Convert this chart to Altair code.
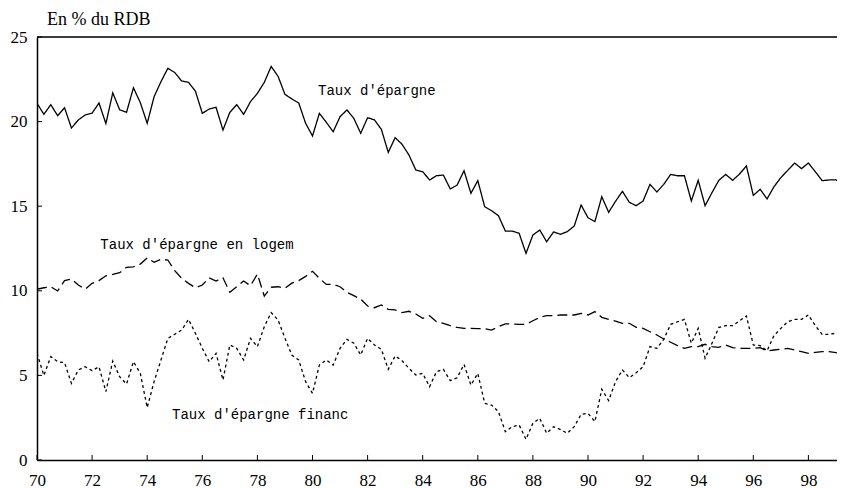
import altair as alt
import pandas as pd

# Quarterly data, 1970Q1 .. 1999Q2 (years shown as 70..99)
taux_epargne = [
    21.08, 20.43, 21.0, 20.35, 20.82, 19.62, 20.1, 20.39, 20.5, 21.1, 19.88, 21.7,
    20.7, 20.55, 22.0, 21.12, 19.9, 21.47, 22.36, 23.15, 22.9, 22.4, 22.32, 21.8,
    20.49, 20.74, 20.84, 19.5, 20.55, 21.0, 20.43, 21.18, 21.67, 22.32, 23.26, 22.68,
    21.61, 21.34, 21.1, 19.9, 19.15, 20.49, 19.96, 19.4, 20.29, 20.69, 20.19, 19.31,
    20.23, 20.1, 19.54, 18.18, 19.05, 18.66, 18.03, 17.14, 17.04, 16.55, 16.8, 16.84,
    16.02, 16.25, 17.1, 15.76, 16.51, 14.97, 14.73, 14.44, 13.53, 13.53, 13.4, 12.21,
    13.3, 13.59, 12.9, 13.48, 13.34, 13.5, 13.83, 15.07, 14.32, 14.09, 15.56, 14.64,
    15.29, 15.88, 15.23, 15.03, 15.31, 16.29, 15.84, 16.29, 16.88, 16.8, 16.8, 15.31,
    16.53, 15.03, 15.8, 16.53, 16.88, 16.53, 16.9, 17.38, 15.64, 16.0, 15.43, 16.15,
    16.69, 17.12, 17.55, 17.22, 17.55, 17.04, 16.51, 16.55, 16.55, 16.45,
]
taux_logement = [
    10.09, 10.18, 10.24, 9.99, 10.6, 10.7, 10.34, 10.09, 10.44, 10.6, 10.89, 10.97,
    11.07, 11.39, 11.42, 11.58, 11.94, 11.68, 11.86, 11.82, 11.19, 10.74, 10.44, 10.18,
    10.34, 10.77, 10.58, 10.77, 9.91, 10.24, 10.58, 10.3, 10.99, 9.69, 10.21, 10.24,
    10.15, 10.45, 10.6, 10.85, 11.15, 10.74, 10.38, 10.38, 10.24, 9.91, 9.71, 9.51,
    9.1, 9.0, 9.16, 8.9, 8.87, 8.71, 8.79, 8.63, 8.37, 8.53, 8.17, 8.08,
    7.94, 7.84, 7.78, 7.78, 7.76, 7.76, 7.68, 7.88, 8.04, 8.04, 8.02, 8.02,
    8.23, 8.43, 8.53, 8.53, 8.57, 8.57, 8.57, 8.67, 8.57, 8.77, 8.43, 8.31,
    8.21, 8.08, 8.08, 7.84, 7.78, 7.58, 7.39, 7.15, 6.96, 6.76, 6.6, 6.7,
    6.7, 6.84, 6.7, 6.66, 6.8, 6.64, 6.6, 6.6, 6.6, 6.64, 6.44, 6.5,
    6.54, 6.6, 6.5, 6.4, 6.3, 6.36, 6.4, 6.4, 6.34, 6.3,
]
taux_financier = [
    6.3, 5.0, 6.11, 5.81, 5.75, 4.53, 5.32, 5.51, 5.28, 5.51, 4.04, 5.85,
    4.92, 4.49, 5.81, 5.12, 3.1, 4.63, 5.91, 7.19, 7.43, 7.68, 8.31, 7.49,
    6.6, 5.81, 6.3, 4.73, 6.8, 6.6, 5.91, 7.19, 6.7, 7.88, 8.71, 8.27,
    7.2, 6.2, 5.91, 4.63, 3.94, 5.61, 5.91, 5.61, 6.6, 7.13, 6.9, 6.21,
    7.19, 6.8, 6.54, 5.36, 6.15, 5.87, 5.42, 5.02, 5.12, 4.33, 5.22, 5.36,
    4.69, 4.86, 5.65, 4.43, 5.12, 3.35, 3.25, 2.86, 1.67, 1.97, 2.07, 1.22,
    2.17, 2.46, 1.58, 1.97, 1.8, 1.58, 1.97, 2.7, 2.76, 2.27, 4.18, 3.51,
    4.63, 5.32, 4.87, 5.16, 5.51, 6.7, 6.6, 7.13, 8.02, 8.17, 8.31, 6.9,
    7.78, 6.01, 6.9, 7.84, 7.94, 7.94, 8.23, 8.51, 6.8, 6.76, 6.46, 7.35,
    7.78, 8.17, 8.31, 8.31, 8.57, 7.94, 7.43, 7.43, 7.49, 7.43,
]
quarters = [70 + i * 0.25 for i in range(len(taux_epargne))]

title_text = "En % du RDB"
label_texts = ["Taux d'épargne", "Taux d'épargne en logem", "Taux d'épargne financ"]
label_x = [80.2, 72.3, 74.9]
label_y = [21.8, 12.7, 2.66]

x_ticks = [70, 72, 74, 76, 78, 80, 82, 84, 86, 88, 90, 92, 94, 96, 98]
y_ticks = [0, 5, 10, 15, 20, 25]

W, H = 800, 423
PX_PER_YEAR = 27.55
x_scale = alt.Scale(domain=[70, 70 + W / PX_PER_YEAR], nice=False, zero=False)
y_scale = alt.Scale(domain=[0, 25], nice=False, zero=True)

serif = "Liberation Serif, Times New Roman, DejaVu Serif, serif"
mono = "Liberation Mono, Courier New, monospace"

x_axis = alt.Axis(values=x_ticks, format="d", ticks=False, grid=False, labelFont=serif,
                  labelFontSize=17, labelColor="black", labelPadding=12, domainColor="black",
                  domainWidth=1.5, title=None, labelFlush=False)
y_axis = alt.Axis(values=y_ticks, format="d", ticks=False, grid=False, labelFont=serif,
                  labelFontSize=17, labelColor="black", labelPadding=10, domainColor="black",
                  domainWidth=1.5, title=None)

def series_line(values, dash):
    df = pd.DataFrame({"t": quarters, "v": values})
    return alt.Chart(df).mark_line(color="black", strokeWidth=1.3, strokeDash=dash, clip=True).encode(
        x=alt.X("t:Q", scale=x_scale, axis=x_axis),
        y=alt.Y("v:Q", scale=y_scale, axis=y_axis),
    )

l1 = series_line(taux_epargne, [1, 0])
l2 = series_line(taux_logement, [10, 5])
l3 = series_line(taux_financier, [3, 3])

labels = alt.Chart(pd.DataFrame({"x": label_x, "y": label_y, "txt": label_texts})).mark_text(
    font=mono, fontSize=14, align="left", baseline="middle", color="black"
).encode(x=alt.X("x:Q", scale=x_scale), y=alt.Y("y:Q", scale=y_scale), text="txt:N")

title = alt.Chart(pd.DataFrame({"txt": [title_text]})).mark_text(
    font=serif, fontSize=18, align="left", baseline="alphabetic", color="black"
).encode(x=alt.value(10), y=alt.value(-12), text="txt:N")

top_border = alt.Chart(pd.DataFrame({"v": [25]})).mark_rule(color="black", strokeWidth=1.5).encode(
    y=alt.Y("v:Q", scale=y_scale)
)

xt = alt.Chart(pd.DataFrame({"t": x_ticks})).mark_rule(color="black", strokeWidth=1).encode(
    x=alt.X("t:Q", scale=x_scale), y=alt.value(H), y2=alt.value(H - 5)
)
yt = alt.Chart(pd.DataFrame({"v": y_ticks})).mark_rule(color="black", strokeWidth=1).encode(
    y=alt.Y("v:Q", scale=y_scale), x=alt.value(0), x2=alt.value(5)
)

chart = alt.layer(l1, l2, l3, labels, title, top_border, xt, yt).properties(
    width=W, height=H,
    autosize=alt.AutoSizeParams(type="none"),
    padding={"left": 29, "top": 29, "right": 0, "bottom": 28},
).configure_view(stroke=None).configure(background="white")

chart.save("out.html", embed_options={"renderer": "svg", "actions": False})
